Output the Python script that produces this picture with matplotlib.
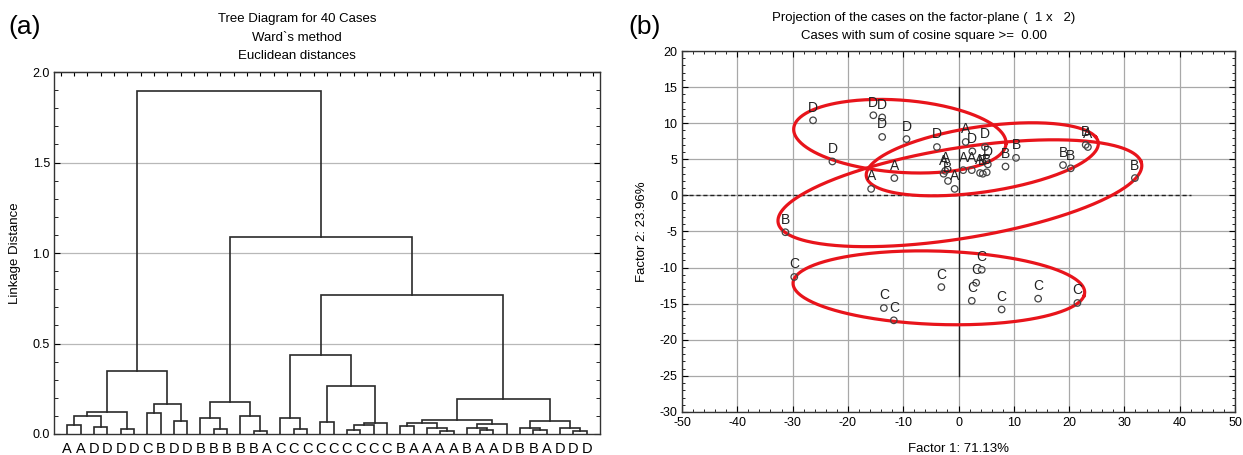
import numpy as np
import matplotlib
matplotlib.use("Agg")
import matplotlib.pyplot as plt
from matplotlib.ticker import MultipleLocator

plt.rcParams['font.family'] = ['Liberation Sans', 'DejaVu Sans']
plt.rcParams['axes.unicode_minus'] = False

# --- (a) dendrogram data ---
leaf_labels = list("AADDDDCBDDBBBBBACCCCCCCCCBAAAABAADBBADDD")
# merges: (left node, right node, linkage distance); new nodes numbered from 40
merges = [
    (4, 5, 0.029), (2, 3, 0.037), (0, 1, 0.048), (42, 41, 0.100), (43, 40, 0.123),
    (8, 9, 0.074), (6, 7, 0.116), (46, 45, 0.168), (44, 47, 0.348),
    (14, 15, 0.015), (11, 12, 0.028), (10, 50, 0.088), (13, 49, 0.098), (51, 52, 0.177),
    (21, 22, 0.022), (17, 18, 0.028), (54, 23, 0.050), (56, 24, 0.059), (19, 20, 0.064),
    (16, 55, 0.088), (58, 57, 0.267), (59, 60, 0.434),
    (28, 29, 0.018), (27, 62, 0.032), (25, 26, 0.046), (64, 63, 0.062),
    (31, 32, 0.022), (30, 66, 0.031), (67, 33, 0.055), (65, 68, 0.079),
    (35, 36, 0.020), (34, 70, 0.034), (38, 39, 0.018), (37, 72, 0.032), (71, 73, 0.074),
    (69, 74, 0.195), (61, 75, 0.768), (53, 76, 1.088), (48, 77, 1.895),
]

# --- (b) factor plane data ---
pt_labels = (["D"] * 10 + ["A"] * 10 + ["B"] * 10 + ["C"] * 10)
f1 = [-26.3, -15.4, -13.8, -13.8, -9.4, -3.9, -22.8, 2.5, 4.8, 5.3,
      -11.6, -15.8, -2.7, -2.4, -0.7, 1.3, 0.85, 2.4, 3.9, 23.4,
      -31.3, -1.9, 5.1, 4.4, 8.5, 10.4, 18.9, 20.3, 31.9, 23.0,
      -29.7, -13.5, -11.7, -3.1, 4.2, 3.2, 2.4, 7.8, 14.4, 21.5]
f2 = [10.4, 11.1, 10.8, 8.1, 7.8, 6.7, 4.7, 6.1, 6.7, 4.3,
      2.4, 0.9, 3.0, 3.4, 0.9, 7.4, 3.5, 3.5, 3.1, 6.7,
      -5.1, 2.0, 3.2, 3.0, 4.0, 5.2, 4.2, 3.75, 2.4, 7.0,
      -11.3, -15.6, -17.3, -12.7, -10.3, -12.1, -14.6, -15.8, -14.3, -14.9]
# ellipses: centre, first half-axis vector, second half-axis vector
ell_center = [(-10.6, 8.2), (4.3, 5.0), (0.25, 0.3), (-3.55, -12.8)]
ell_a = [(19.2, -1.0), (20.5, 3.1), (32.75, 4.4), (26.25, -1.1)]
ell_b = [(0.2, 5.0), (-4.5, 4.0), (-3.1, 5.95), (2.5, 5.0)]

W, H = 1243, 455
fig = plt.figure(figsize=(W / 100, H / 100), dpi=100)

# ---------- (a) ----------
ax1 = fig.add_axes([54 / W, (H - 434) / H, 546 / W, 362 / H])
pos = {i: i + 1 for i in range(40)}
hgt = {i: 0.0 for i in range(40)}
for k, (a, b, h) in enumerate(merges):
    ax1.plot([pos[a], pos[a], pos[b], pos[b]], [hgt[a], h, h, hgt[b]],
             color='#2a2a2a', lw=1.2, solid_joinstyle='miter', zorder=3)
    pos[40 + k] = (pos[a] + pos[b]) / 2
    hgt[40 + k] = h
ax1.set_xlim(0, 41)
ax1.set_ylim(0, 2.0)
ax1.set_xticks(range(1, 41))
ax1.set_xticklabels(leaf_labels, fontsize=10.5)
ax1.tick_params(axis='x', length=0, pad=6)
ax1.set_yticks([0, 0.5, 1.0, 1.5, 2.0])
ax1.set_yticklabels(["0.0", "0.5", "1.0", "1.5", "2.0"], fontsize=9)
ax1.yaxis.set_minor_locator(MultipleLocator(0.1))
ax1.tick_params(axis='y', which='both', direction='in', right=True, length=3, pad=3)
ax1.tick_params(axis='y', which='major', length=4)
for yv in [0.5, 1.0, 1.5]:
    ax1.axhline(yv, color='#b8b8b8', lw=0.9, zorder=1)
axt = ax1.secondary_xaxis('top')
axt.set_xticks(np.arange(0.5, 41, 1.0))
axt.tick_params(direction='in', length=3, labeltop=False)
for s in ax1.spines.values():
    s.set_linewidth(1.0)
    s.set_color('#333333')
ax1.set_ylabel("Linkage Distance", fontsize=9.5, labelpad=8)
fig.text(297 / W, 1 - 19 / H, "Tree Diagram for 40 Cases", ha='center', va='center', fontsize=9.5)
fig.text(297 / W, 1 - 38 / H, "Ward`s method", ha='center', va='center', fontsize=9.5)
fig.text(297 / W, 1 - 56 / H, "Euclidean distances", ha='center', va='center', fontsize=9.5)
fig.text(8 / W, 1 - 27 / H, "(a)", ha='left', va='center', fontsize=19)

# ---------- (b) ----------
ax2 = fig.add_axes([682 / W, (H - 412) / H, 553 / W, 361 / H])
ax2.set_xlim(-50, 50)
ax2.set_ylim(-30, 20)
ax2.set_xticks(np.arange(-50, 51, 10))
ax2.set_yticks(np.arange(-30, 21, 5))
ax2.xaxis.set_minor_locator(MultipleLocator(2))
ax2.yaxis.set_minor_locator(MultipleLocator(1))
ax2.tick_params(which='both', direction='in', top=True, right=True, labelsize=9)
ax2.tick_params(which='major', length=4)
ax2.tick_params(which='minor', length=2)
ax2.set_xticklabels([str(v) for v in range(-50, 51, 10)])
ax2.set_yticklabels([str(v) for v in range(-30, 21, 5)])
ax2.grid(True, which='major', color='#a8a8a8', lw=0.9, zorder=0)
ax2.axhline(0, xmin=0, xmax=0.92, color='#222222', lw=1.0, ls=(0, (3, 2)), zorder=2)
ax2.plot([0, 0], [-25, 15], color='#222222', lw=1.0, zorder=2)
for s in ax2.spines.values():
    s.set_linewidth(1.0)
    s.set_color('#333333')

t = np.linspace(0, 2 * np.pi, 300)
for c, a, b in zip(ell_center, ell_a, ell_b):
    ex = c[0] + a[0] * np.cos(t) + b[0] * np.sin(t)
    ey = c[1] + a[1] * np.cos(t) + b[1] * np.sin(t)
    ax2.plot(ex, ey, color='#e8141b', lw=2.3, zorder=4)

ax2.scatter(f1, f2, s=22, facecolors='none', edgecolors='#444444', linewidths=0.9, zorder=5)
for x, y, lab in zip(f1, f2, pt_labels):
    ax2.annotate(lab, (x, y), xytext=(0, 4), textcoords='offset points',
                 ha='center', va='bottom', fontsize=10, color='#222222', zorder=6)

ax2.set_xlabel("Factor 1: 71.13%", fontsize=9.5, labelpad=10)
ax2.set_ylabel("Factor 2: 23.96%", fontsize=9.5, labelpad=8)
fig.text(924 / W, 1 - 18 / H, "Projection of the cases on the factor-plane (  1 x   2)",
         ha='center', va='center', fontsize=9.5)
fig.text(924 / W, 1 - 36 / H, "Cases with sum of cosine square >=  0.00",
         ha='center', va='center', fontsize=9.5)
fig.text(628 / W, 1 - 27 / H, "(b)", ha='left', va='center', fontsize=19)

fig.savefig("out.png", dpi=100)
